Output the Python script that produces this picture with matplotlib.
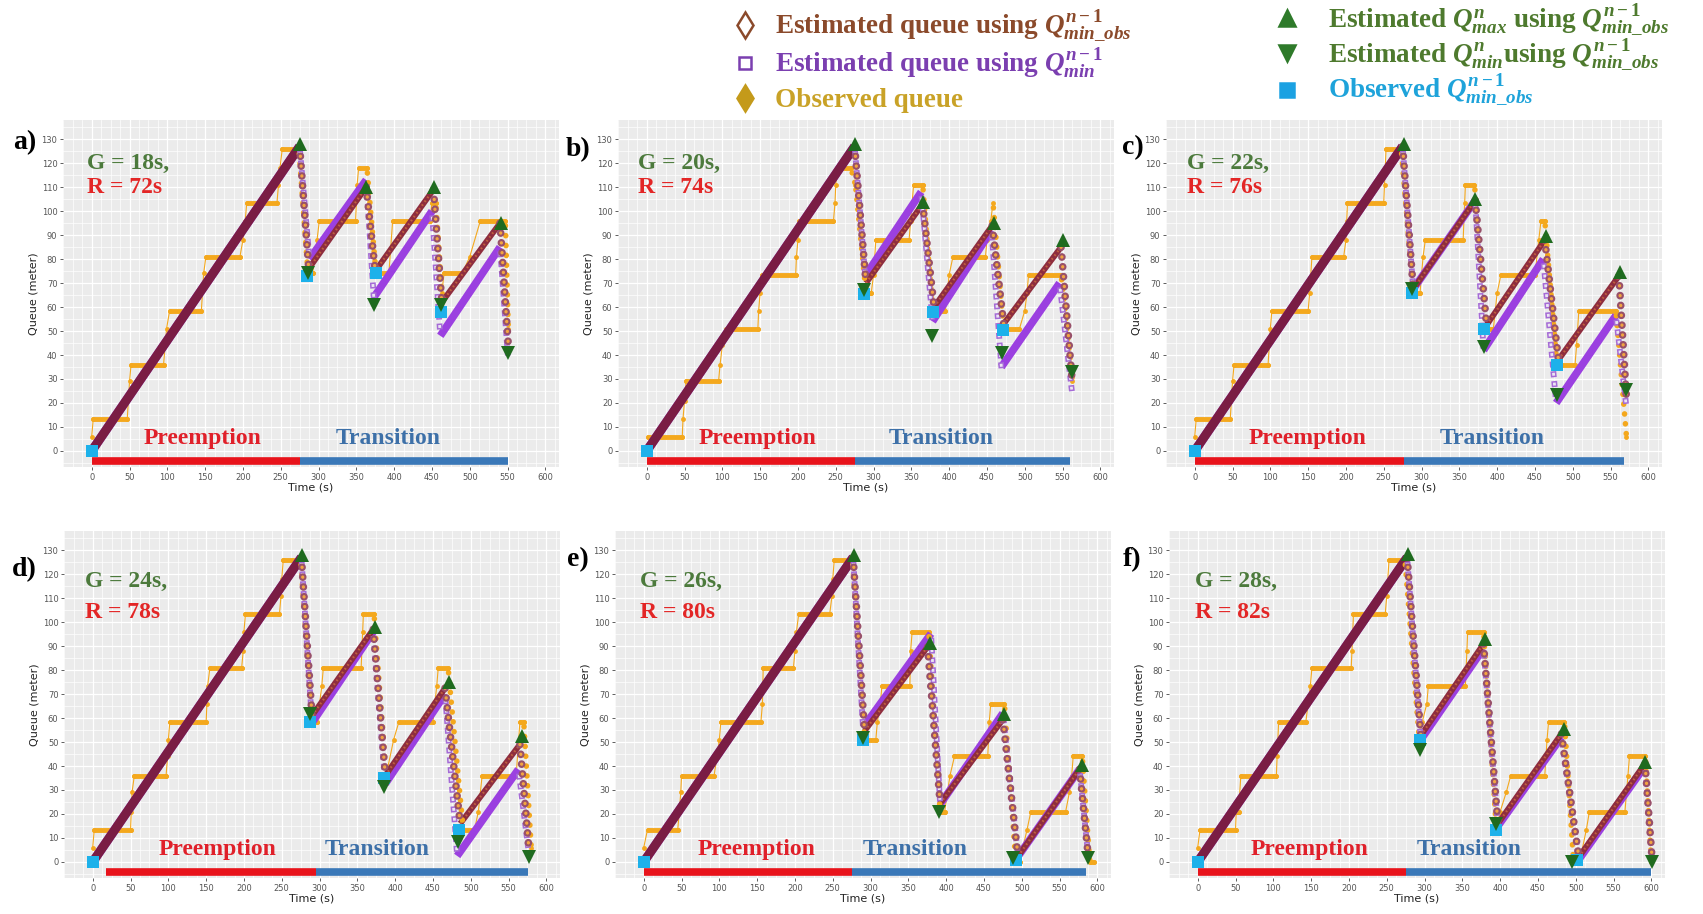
import numpy as np
import matplotlib
matplotlib.use("Agg")
from matplotlib import pyplot as plt
from matplotlib.lines import Line2D
from matplotlib.ticker import MultipleLocator

plt.rcParams["lines.scale_dashes"] = False
plt.rcParams["mathtext.fontset"] = "custom"
plt.rcParams["mathtext.rm"] = "Liberation Serif:bold"
plt.rcParams["mathtext.it"] = "Liberation Serif:italic:bold"
plt.rcParams["mathtext.bf"] = "Liberation Serif:bold"

# ---- panel a) G = 18s, R = 72s
est_t_a = [0, 275, 287, 363, 375, 452, 463, 540, 551]
est_q_a = [0, 127, 76, 110, 75, 109, 62, 95, 44]
qmin_t_a = [0, 275, 288, 363, 373, 450, 461, 540, 551]
qmin_q_a = [0, 127, 80, 113, 64, 100, 48, 85, 37]
max_t_a = [276, 363, 453, 541]
max_q_a = [128, 110, 110, 95]
min_t_a = [286, 373, 462, 551]
min_q_a = [74, 61, 61, 41]
omin_t_a = [0, 285, 376, 462]
omin_q_a = [0, 73, 74, 58]
obs_t_a = [0, 2, 47, 50, 52, 95, 99, 103, 145, 148, 151, 196, 200, 203, 205, 245, 247, 249, 252, 274,
           286, 292, 298, 301, 349, 351, 353, 364, 376, 393, 398, 447, 450, 455, 463, 466, 490, 500, 514, 547, 551]
obs_q_a = [6, 13.5, 13.5, 29, 36, 36, 51, 58.5, 58.5, 74, 81, 81, 88, 96, 103.5, 103.5, 111, 118, 126, 126,
           74, 74, 88, 96, 96, 111, 118, 118, 74, 74, 96, 96, 103.5, 103.5, 66, 74, 74, 81, 96, 96, 51]

# ---- panel b) G = 20s, R = 74s
est_t_b = [0, 275, 290, 365, 380, 457, 472, 548, 563]
est_q_b = [0, 127, 70, 103, 60, 94, 53, 85, 28]
qmin_t_b = [0, 275, 289, 363, 378, 456, 469, 546, 563]
qmin_q_b = [0, 127, 73, 108, 54, 92, 35, 70, 23]
max_t_b = [276, 366, 459, 550]
max_q_b = [128, 104, 95, 88]
min_t_b = [287, 377, 470, 563]
min_q_b = [67, 48, 41, 33]
omin_t_b = [0, 287, 379, 471]
omin_q_b = [0, 65.5, 58, 50.5]
obs_t_b = [2, 47, 48, 50, 52, 95, 97, 100, 105, 147, 148, 150, 152, 197, 198, 200, 202, 247, 249, 250,
           252, 270, 276, 290, 297, 300, 303, 347, 349, 351, 353, 365, 378, 395, 400, 405, 448, 450, 455, 458,
           472, 493, 500, 503, 505, 548, 563]
obs_q_b = [6, 6, 13.5, 21, 29, 29, 36, 44, 51, 51, 58.5, 66, 73.5, 73.5, 81, 88, 96, 96, 103.5, 111,
           118, 118, 111, 66, 66, 73.5, 88, 88, 96, 103.5, 111, 111, 58.5, 58.5, 73.5, 81, 81, 88, 96, 103.5,
           51, 51, 58.5, 66, 73.5, 73.5, 29]

# ---- panel c) G = 22s, R = 76s
est_t_c = [0, 275, 289, 371, 386, 463, 481, 561, 571]
est_q_c = [0, 127, 67.5, 104.5, 52.5, 88, 38, 73, 22]
qmin_t_c = [0, 275, 289, 371, 382, 461, 478, 557, 571]
qmin_q_c = [0, 127, 67.5, 104.5, 42, 80, 20, 56.5, 18]
max_t_c = [276.5, 371, 465, 562]
max_q_c = [128, 105, 89.5, 74.5]
min_t_c = [287, 382, 479, 571]
min_q_c = [67.5, 43.5, 23.5, 25.5]
omin_t_c = [0, 287, 383, 479]
omin_q_c = [0, 66, 50.7, 36]
obs_t_c = [0, 2, 47, 50, 52, 97, 100, 102, 150, 152, 155, 197, 200, 201, 202, 250, 251, 252, 253, 273,
           289, 298, 302, 305, 355, 357, 358, 370, 385, 395, 400, 405, 450, 455, 458, 463, 479, 503, 505, 508,
           557, 571]
obs_q_c = [6, 13.5, 13.5, 29, 36, 36, 51, 58.5, 58.5, 66, 81, 81, 88, 96, 103.5, 103.5, 111, 118, 126, 126,
           66, 66, 81, 88, 88, 103.5, 111, 111, 51, 51, 66, 73.5, 73.5, 88, 96, 96, 36, 36, 44, 58.5,
           58.5, 6]

# ---- panel d) G = 24s, R = 78s
est_t_d = [0, 276, 290, 371, 387, 466, 486, 565, 577]
est_q_d = [0, 127, 61, 97, 36, 72.5, 16, 49, 5]
qmin_t_d = [0, 276, 290, 371, 387, 466, 482, 563, 577]
qmin_q_d = [0, 127, 58, 96, 32.6, 70, 2.5, 38.6, 3]
max_t_d = [276.5, 373, 471, 568]
max_q_d = [128, 98, 75, 52.6]
min_t_d = [288, 385, 483, 577]
min_q_d = [61.7, 31.4, 8.4, 2.2]
omin_t_d = [0, 288, 385, 484]
omin_q_d = [0, 58.5, 35.2, 13.2]
obs_t_d = [0, 2, 50, 51, 52, 55, 97, 99, 100, 102, 150, 151, 152, 155, 197, 199, 200, 202, 247, 249,
           250, 252, 275, 290, 297, 303, 305, 355, 357, 358, 372, 388, 398, 405, 450, 455, 457, 470, 490, 505,
           510, 515, 560, 565, 570, 580]
obs_q_d = [6, 13.5, 13.5, 21, 29, 36, 36, 44, 51, 58.5, 58.5, 66, 73.5, 81, 81, 88, 96, 103.5, 103.5, 111,
           118, 126, 126, 58.5, 58.5, 73.5, 81, 81, 96, 103.5, 103.5, 36, 51, 58.5, 58.5, 73.5, 81, 81, 13.5, 13.5,
           21, 36, 36, 58.5, 58.5, 6]

# ---- panel e) G = 26s, R = 80s
est_t_e = [0, 277, 292, 375.5, 392, 475, 495, 576.5, 588]
est_q_e = [0, 127, 54.6, 89.7, 24.4, 59.4, 2.3, 38.7, 2]
qmin_t_e = [0, 277, 290, 380, 392, 475, 495, 576.5, 588]
qmin_q_e = [0, 127, 56, 95.2, 24, 62, 2.3, 38.7, 2]
max_t_e = [277.6, 379, 477, 580]
max_q_e = [128, 91.5, 61.5, 40.6]
min_t_e = [290, 391, 489, 587]
min_q_e = [51.8, 20.8, 1.5, 1.5]
omin_t_e = [0, 290, 493]
omin_q_e = [0, 50.7, 0.8]
obs_t_e = [0, 5, 45, 47, 49, 50, 93, 97, 100, 102, 155, 157, 158, 198, 200, 202, 205, 246, 249, 250,
           252, 276, 292, 307, 309, 313, 315, 352, 353, 355, 377, 392, 398, 405, 411, 455, 457, 459, 477, 492,
           497, 507, 512, 558, 563, 566, 568, 580, 590, 596]
obs_q_e = [6, 13.5, 13.5, 21, 29, 36, 36, 44, 51, 58.5, 58.5, 66, 81, 81, 88, 96, 103.5, 103.5, 111, 118,
           126, 126, 51, 51, 58.5, 66, 73.5, 73.5, 88, 96, 96, 21, 21, 36, 44, 44, 58.5, 66, 66, 0,
           0, 13.5, 21, 21, 29, 36, 44, 44, 0, 0]

# ---- panel f) G = 28s, R = 82s
est_t_f = [0, 277, 295, 378, 397, 481, 504, 591.6, 601]
est_q_f = [0, 127, 52.7, 90.9, 16, 53.4, 2, 41, 1]
qmin_t_f = [0, 277, 295, 378, 397, 481, 504, 591.6, 601]
qmin_q_f = [0, 127, 51, 89, 15, 52, 1, 40, 1]
max_t_f = [278, 380, 485, 592]
max_q_f = [128.6, 93, 55.6, 41.7]
min_t_f = [293.5, 394.6, 495, 601]
min_q_f = [46.5, 15.7, 0, 0]
omin_t_f = [0, 293.5, 394.6, 502]
omin_q_f = [0, 51, 13.5, 0.7]
obs_t_f = [0, 3, 50, 51, 54, 57, 104, 105, 107, 143, 146, 149, 151, 203, 204, 206, 248, 250, 253, 274,
           293, 297, 303, 305, 354, 356, 357, 378, 395, 400, 408, 414, 459, 462, 464, 485, 497, 505, 514, 518,
           565, 569, 571, 592, 600]
obs_q_f = [6, 13.5, 13.5, 21, 21, 36, 36, 44, 58.5, 58.5, 66, 73.5, 81, 81, 88, 103.5, 103.5, 111, 126, 126,
           51, 58.5, 66, 73.5, 73.5, 88, 96, 96, 13.5, 21, 29, 36, 36, 51, 58.5, 58.5, 0, 0, 13.5, 21,
           21, 36, 44, 44, 0]

labels = ["a)", "b)", "c)", "d)", "e)", "f)"]
green_times = ["18s", "20s", "22s", "24s", "26s", "28s"]
red_times = ["72s", "74s", "76s", "78s", "80s", "82s"]
phase_start = [0, 0, 0, 17, 0, 0]
phase_switch = [275, 275, 277, 295, 275, 276]
phase_end = [550, 560, 568, 576, 585, 600]

# colours
ORANGE = "#F4A81D"
PURPLE = "#9B40E0"
MAROON = "#7A1D44"
BROWN = "#8E2D3E"
GREEN = "#1F6B1F"
CYAN = "#1DB1EA"

W, H = 1703, 914
fig = plt.figure(figsize=(W / 100, H / 100), dpi=100)

# layout in pixels: (axes left, axes top, label x, label y, G/R text x, G y, R y, preemption x, transition x)
layout = [
    (63, 120, 25, 143, -6, 120, 110, 147, 392),
    (618, 120, 578, 150, -12, 120, 110, 147, 389),
    (1166, 120, 1133, 148, -10, 120, 110, 149, 394),
    (64, 531, 24, 570, -10, 117, 104, 165, 376),
    (615, 531, 578, 560, -5, 117, 104, 149, 359),
    (1169, 531, 1132, 560, -3, 117, 104, 148, 359),
]
AX_W, AX_H = 496, 347

series = [
    (est_t_a, est_q_a, qmin_t_a, qmin_q_a, max_t_a, max_q_a, min_t_a, min_q_a, omin_t_a, omin_q_a, obs_t_a, obs_q_a),
    (est_t_b, est_q_b, qmin_t_b, qmin_q_b, max_t_b, max_q_b, min_t_b, min_q_b, omin_t_b, omin_q_b, obs_t_b, obs_q_b),
    (est_t_c, est_q_c, qmin_t_c, qmin_q_c, max_t_c, max_q_c, min_t_c, min_q_c, omin_t_c, omin_q_c, obs_t_c, obs_q_c),
    (est_t_d, est_q_d, qmin_t_d, qmin_q_d, max_t_d, max_q_d, min_t_d, min_q_d, omin_t_d, omin_q_d, obs_t_d, obs_q_d),
    (est_t_e, est_q_e, qmin_t_e, qmin_q_e, max_t_e, max_q_e, min_t_e, min_q_e, omin_t_e, omin_q_e, obs_t_e, obs_q_e),
    (est_t_f, est_q_f, qmin_t_f, qmin_q_f, max_t_f, max_q_f, min_t_f, min_q_f, omin_t_f, omin_q_f, obs_t_f, obs_q_f),
]


def segments(t, q):
    for i in range(len(t) - 1):
        yield i, [t[i], t[i + 1]], [q[i], q[i + 1]], np.sign(q[i + 1] - q[i])


def beads(ax, x, y, outer, inner, lw_out, lw_in, cap, offset, z):
    pattern = (offset, (0.1, 7))
    ax.plot(x, y, color=outer, lw=lw_out, ls=pattern, dash_capstyle=cap, zorder=z)
    ax.plot(x, y, color=inner, lw=lw_in, ls=pattern, dash_capstyle=cap, zorder=z + 0.01)


def style_axes(ax):
    ax.set_facecolor("#EBEBEB")
    for s in ax.spines.values():
        s.set_visible(False)
    ax.set_xlim(-38, 618)
    ax.set_ylim(-6.7, 138)
    ax.set_xticks(np.arange(0, 601, 50))
    ax.set_yticks(np.arange(0, 131, 10))
    ax.xaxis.set_minor_locator(MultipleLocator(12.5))
    ax.yaxis.set_minor_locator(MultipleLocator(5))
    ax.grid(which="major", color="white", lw=0.9)
    ax.grid(which="minor", color="white", lw=0.5)
    ax.set_axisbelow(True)
    ax.tick_params(which="major", length=2.5, width=0.6, color="#444444",
                   labelsize=6, labelcolor="#555555", pad=1.5)
    ax.tick_params(which="minor", length=0)
    ax.set_xlabel("Time (s)", fontsize=8, labelpad=1, color="#222222")
    ax.set_ylabel("Queue (meter)", fontsize=8, labelpad=2, color="#222222")


for k, (data, lay) in enumerate(zip(series, layout)):
    (et, eq, pt, pq, mxt, mxq, mnt, mnq, ot, oq, obt, obq) = data
    left, top, lx, ly, gx, gy, ry, px, tx = lay
    ax = fig.add_axes([left / W, 1 - (top + AX_H) / H, AX_W / W, AX_H / H])
    style_axes(ax)

    # observed queue
    for i, x, y, d in segments(obt, obq):
        if d == 0:
            ax.plot(x, y, color=ORANGE, lw=3.5, solid_capstyle="round", zorder=2)
        elif d > 0:
            ax.plot(x, y, color=ORANGE, lw=0.8, zorder=2)
        else:
            ax.plot(x, y, color=ORANGE, lw=4, ls=(3.5, (0.1, 7)), dash_capstyle="round", zorder=4.6)
    ax.plot(obt, obq, "o", ms=3.5, mew=0, color=ORANGE, ls="none", zorder=2)

    # estimated with Q_min
    for i, x, y, d in segments(pt, pq):
        if d > 0:
            ax.plot(x, y, color=PURPLE, lw=6.5 if i == 0 else 5.5, solid_capstyle="butt", zorder=3)
        else:
            beads(ax, x, y, "#A56BD6", "#ECE6F2", 4.2, 2.0, "projecting", 2.0, 4.8)

    # estimated with Q_min_obs
    for i, x, y, d in segments(et, eq):
        if d > 0:
            if i == 0:
                ax.plot(x, y, color=MAROON, lw=6.5, solid_capstyle="butt", zorder=3.5)
            else:
                ax.plot(x, y, color=BROWN, lw=4.2, solid_capstyle="butt", zorder=3.5)
                ax.plot(x, y, color="#C0603F", lw=1.6, ls=(0, (1.2, 2.2)), zorder=3.6)
        else:
            beads(ax, x, y, "#985069", "#F2A541", 5.5, 2.4, "round", 0, 5)

    ax.plot(ot, oq, "s", ms=8, color=CYAN, mew=0, ls="none", zorder=5.5)
    ax.plot(mxt, mxq, "^", ms=10, color=GREEN, mew=0, ls="none", zorder=6)
    ax.plot(mnt, mnq, "v", ms=10, color=GREEN, mew=0, ls="none", zorder=6)

    # signal phases
    ax.plot([phase_start[k], phase_switch[k]], [-4, -4], color="#E8131B", lw=5.5,
            solid_capstyle="butt", zorder=3)
    ax.plot([phase_switch[k], phase_end[k]], [-4, -4], color="#3A78B8", lw=5.5,
            solid_capstyle="butt", zorder=3)
    ax.text(px, 5, "Preemption", color="#E0202A", fontsize=17, fontweight="bold",
            family="Liberation Serif", ha="center", va="center", zorder=7)
    ax.text(tx, 5, "Transition", color="#3D70A8", fontsize=17, fontweight="bold",
            family="Liberation Serif", ha="center", va="center", zorder=7)
    ax.text(gx, gy, "G = " + green_times[k] + ",", color="#4C7A3C", fontsize=17,
            fontweight="bold", family="Liberation Serif", ha="left", va="center", zorder=7)
    ax.text(gx, ry, "R = " + red_times[k], color="#E32626", fontsize=17,
            fontweight="bold", family="Liberation Serif", ha="left", va="center", zorder=7)

    fig.text(lx / W, 1 - ly / H, labels[k], fontsize=20, fontweight="bold",
             family="Liberation Serif", ha="center", va="center")

# legend
legend_rows = [
    (745, 25, 775, 33, "d", "none", "#8B4A2B", 13, "#8B4A2B",
     r"Estimated queue using $Q^{n-1}_{min\_obs}$"),
    (745, 63, 775, 72, "s", "none", "#7B3FB0", 9, "#7B3FB0",
     r"Estimated queue using $Q^{n-1}_{min}$"),
    (745, 98, 775, 107, "d", "#C49A1A", "#C49A1A", 13, "#C9A227", "Observed queue"),
    (1287, 18, 1328, 27, "^", "#2E7A2A", "#2E7A2A", 11, "#4E7A2E",
     r"Estimated $Q^{n}_{max}$ using $Q^{n-1}_{min\_obs}$"),
    (1287, 53, 1328, 62, "v", "#2E7A2A", "#2E7A2A", 11, "#4E7A2E",
     r"Estimated $Q^{n}_{min}$using $Q^{n-1}_{min\_obs}$"),
    (1287, 90, 1328, 97, "s", "#1BA1E2", "#1BA1E2", 10, "#1EA3DA",
     r"Observed $Q^{n-1}_{min\_obs}$"),
]
for mx, my, txx, tyy, mk, fc, ec, ms, tc, txt in legend_rows:
    fig.add_artist(Line2D([mx / W], [1 - my / H], marker=mk, ms=ms, mfc=fc, mec=ec, mew=1.8,
                          ls="none", transform=fig.transFigure))
    fig.text(txx / W, 1 - tyy / H, txt, color=tc, fontsize=19.5, fontweight="bold",
             family="Liberation Serif", ha="left", va="baseline")

fig.savefig("out.png", dpi=100)
